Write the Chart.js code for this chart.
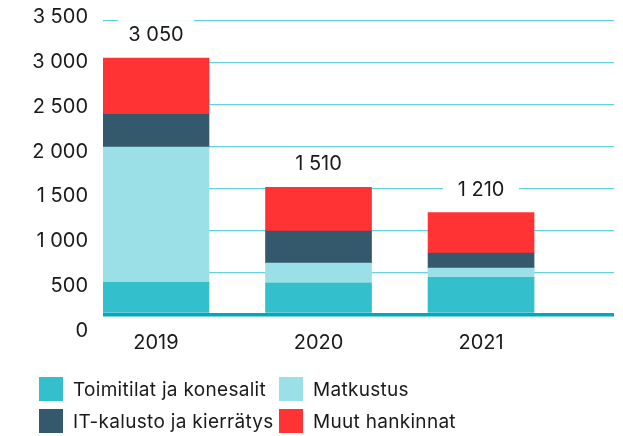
<!DOCTYPE html>
<html>
<head>
<meta charset="utf-8">
<script src="https://cdn.jsdelivr.net/npm/chart.js@4/dist/chart.umd.min.js"></script>
<style>
  body { margin: 0; background: #fff; }
  .wrap { position: relative; width: 623px; height: 436px; }
  .legend {
    position: absolute; left: 39px; top: 377px;
    display: grid; grid-template-columns: 240px 240px; row-gap: 8px;
    font-family: "Inter", sans-serif; font-size: 19px; letter-spacing: 0.3px; color: #1a1a1a;
  }
  .legend div { display: flex; align-items: center; height: 24px; white-space: nowrap; }
  .legend span { display: inline-block; width: 24px; height: 24px; margin-right: 10px; }
</style>
</head>
<body>
<div class="wrap">
  <canvas id="chart"></canvas>
  <div class="legend" id="legend"></div>
</div>
<script>
var categories = ["2019", "2020", "2021"];
var toimitilat = [380, 370, 440];
var matkustus = [1610, 240, 110];
var itKalusto = [390, 380, 180];
var muut = [670, 520, 480];
var yTicks = [0, 500, 1000, 1500, 2000, 2500, 3000, 3500];

var seriesNames = ["Toimitilat ja konesalit", "Matkustus", "IT-kalusto ja kierrätys", "Muut hankinnat"];
var seriesColors = ["#33bfcc", "#9be0e6", "#34586c", "#ff3333"];
var seriesData = [toimitilat, matkustus, itKalusto, muut];
var FONT = "Inter";

function fmt(v) {
  return String(v).replace(/\B(?=(\d{3})+(?!\d))/g, " ");
}

function noPad(axis) {
  axis.paddingTop = 0;
  axis.paddingBottom = 0;
  axis.paddingLeft = 0;
  axis.paddingRight = 0;
}

// total above each bar, on a white patch that cuts the grid line
var totals = {
  id: "totals",
  afterDatasetsDraw: function (chart) {
    var ctx = chart.ctx;
    var x = chart.scales.x;
    var y = chart.scales.y;
    ctx.save();
    ctx.font = "20px " + FONT;
    ctx.textAlign = "center";
    ctx.textBaseline = "middle";
    categories.forEach(function (c, i) {
      var sum = 0;
      seriesData.forEach(function (s) { sum += s[i]; });
      var px = x.getPixelForValue(Number(c));
      var py = y.getPixelForValue(sum) - 23;
      ctx.fillStyle = "#fff";
      ctx.fillRect(px - 38, py - 15, 76, 30);
      ctx.fillStyle = "#1a1a1a";
      ctx.fillText(fmt(sum), px, py);
    });
    ctx.restore();
  }
};

var ctx = document.getElementById("chart");
var myChart = new Chart(ctx, {
  type: "bar",
  data: {
    datasets: seriesData.map(function (s, k) {
      return {
        label: seriesNames[k],
        data: categories.map(function (c, i) { return { x: Number(c), y: s[i] }; }),
        backgroundColor: seriesColors[k],
        borderWidth: 0,
        barThickness: 106,
      };
    }),
  },
  options: {
    responsive: true,
    maintainAspectRatio: false,
    animation: false,
    layout: { padding: { top: 17, right: 9, left: 0, bottom: 0 } },
    plugins: { legend: { display: false }, tooltip: { enabled: false } },
    scales: {
      x: {
        type: "linear",
        stacked: true,
        offset: false,
        min: 2018.674,
        max: 2021.818,
        afterBuildTicks: function (axis) {
          axis.ticks = categories.map(function (c) { return { value: Number(c) }; });
        },
        afterFit: function (axis) { axis.height = 105; noPad(axis); },
        grid: { display: false, drawTicks: false },
        border: { display: false },
        ticks: {
          padding: 0,
          color: "#1a1a1a",
          font: { family: FONT, size: 20 },
          callback: function (v) { return String(v); },
        },
      },
      y: {
        stacked: true,
        position: "left",
        min: -199,
        max: 3539,
        afterBuildTicks: function (axis) {
          axis.ticks = yTicks.map(function (v) { return { value: v }; });
        },
        afterFit: function (axis) { axis.width = 0; noPad(axis); },
        border: { display: false },
        grid: {
          drawTicks: false,
          color: function (c) { return c.tick && c.tick.value === 0 ? "#00aab9" : "#62d3de"; },
          lineWidth: function (c) { return c.tick && c.tick.value === 0 ? 3.5 : 1.3; },
        },
        ticks: { display: false },
      },
      yLab: {
        position: "left",
        min: 0,
        max: 3500,
        afterBuildTicks: function (axis) {
          axis.ticks = yTicks.map(function (v) { return { value: v }; });
        },
        afterFit: function (axis) { axis.width = 103; noPad(axis); },
        border: { display: false },
        grid: { display: false, drawTicks: false },
        ticks: {
          padding: 15,
          color: "#1a1a1a",
          font: { family: FONT, size: 20 },
          callback: function (v) { return fmt(v); },
        },
      },
    },
  },
  plugins: [totals],
});

// legend in two columns
var legend = document.getElementById("legend");
seriesNames.forEach(function (name, k) {
  var item = document.createElement("div");
  var box = document.createElement("span");
  box.style.background = seriesColors[k];
  item.appendChild(box);
  item.appendChild(document.createTextNode(name));
  legend.appendChild(item);
});
</script>
</body>
</html>
